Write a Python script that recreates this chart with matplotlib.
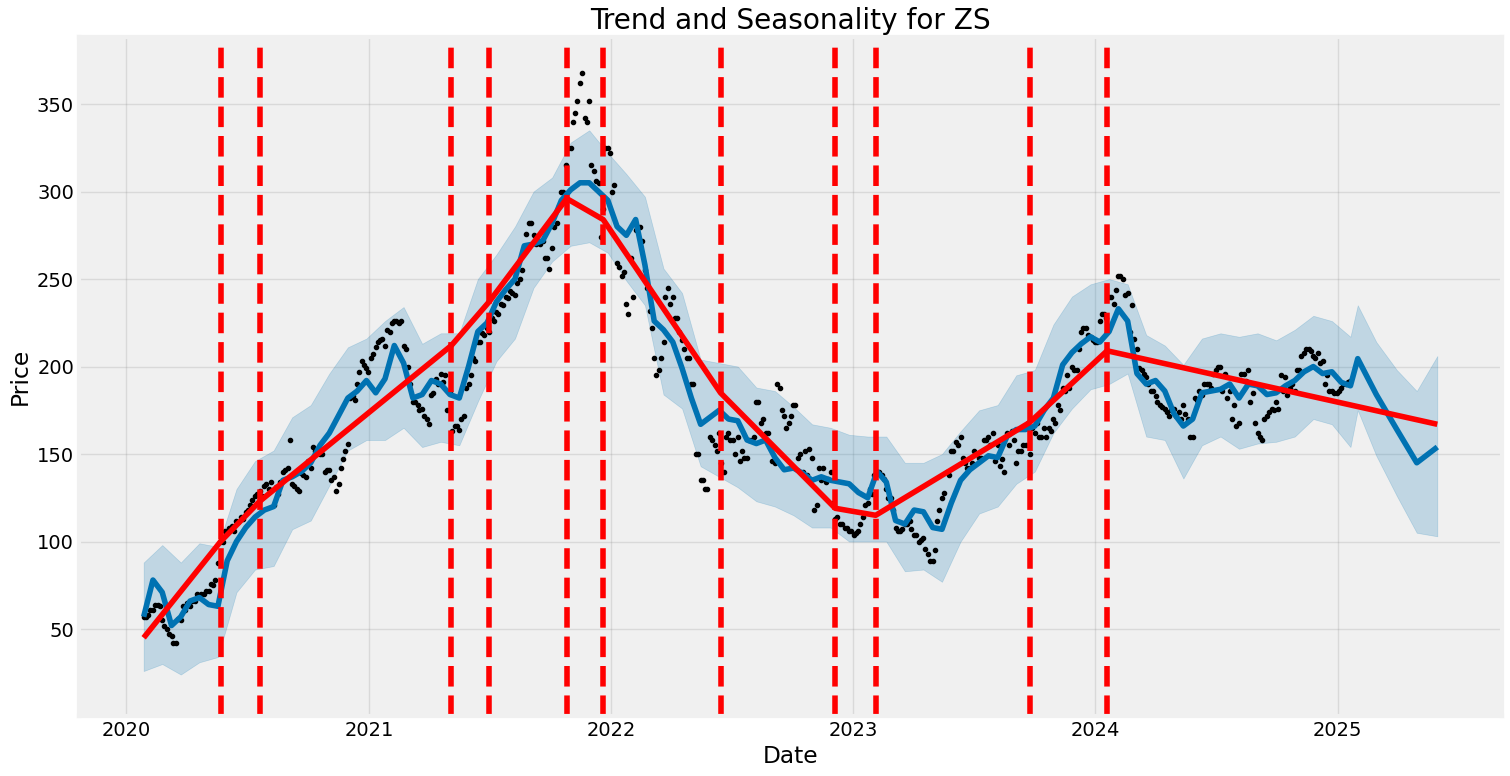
import pandas as pd
import matplotlib.pyplot as plt

mon_start = '2020-01-27'
mon_price = [
    57, 58, 61, 64, 55, 50, 46, 42, 55, 61,
    63, 66, 69, 70, 72, 75, 88, 100, 106, 109,
    112, 114, 117, 121, 126, 129, 132, 130, 121, 127,
    140, 142, 133, 130, 139, 137, 142, 152, 150, 140,
    141, 137, 133, 147, 156, 183, 190, 203, 199, 205,
    211, 215, 212, 220, 226, 225, 212, 200, 180, 178,
    176, 170, 184, 193, 196, 195, 186, 166, 164, 172,
    190, 205, 214, 219, 222, 228, 231, 236, 240, 243,
    241, 250, 265, 282, 275, 272, 272, 262, 268, 282,
    300, 315, 325, 345, 362, 342, 352, 312, 305, 290,
    325, 300, 259, 252, 236, 262, 278, 280, 255, 232,
    205, 198, 214, 245, 240, 228, 215, 205, 190, 150,
    135, 130, 160, 155, 162, 140, 162, 158, 160, 152,
    148, 158, 180, 168, 162, 155, 145, 188, 172, 168,
    178, 148, 140, 138, 148, 121, 135, 134, 140, 113,
    110, 108, 106, 104, 106, 114, 122, 127, 140, 138,
    130, 125, 108, 106, 110, 112, 104, 100, 102, 93,
    89, 112, 125, 140, 152, 157, 160, 145, 142, 152,
    148, 158, 160, 162, 155, 147, 162, 163, 145, 152,
    155, 150, 162, 160, 165, 165, 170, 178, 188, 195,
    200, 198, 220, 222, 217, 214, 226, 230, 240, 236,
    252, 250, 242, 235, 210, 198, 194, 186, 183, 178,
    176, 172, 176, 174, 178, 170, 160, 181, 184, 190,
    188, 198, 200, 196, 186, 178, 168, 196, 198, 185,
    162, 158, 172, 176, 180, 195, 194, 188, 186, 198,
    208, 210, 206, 208, 203, 195, 186, 185, 188, 190, 192,
]

# observed closing prices, weekly on Thursdays from 2020-01-30
thu_start = '2020-01-30'
thu_price = [
    57, 61, 64, 63, 52, 47, 42, 56, 63, 65,
    66, 70, 70, 72, 76, 78, 100, 106, 108, 106,
    111, 113, 118, 124, 127, 126, 133, 134, 131, 134,
    141, 158, 132, 129, 138, 146, 154, 152, 150, 141,
    135, 129, 142, 152, 182, 181, 197, 201, 197, 207,
    214, 216, 221, 225, 226, 226, 210, 190, 180, 175,
    172, 167, 185, 190, 191, 175, 163, 166, 170, 188,
    195, 203, 214, 218, 220, 226, 230, 235, 239, 242,
    248, 255, 276, 282, 270, 270, 262, 256, 280, 292,
    300, 325, 340, 352, 368, 340, 315, 306, 274, 325,
    322, 304, 257, 254, 230, 240, 280, 272, 245, 222,
    195, 205, 240, 236, 228, 220, 210, 205, 190, 150,
    135, 130, 158, 152, 145, 160, 158, 150, 146, 148,
    158, 160, 180, 170, 162, 146, 190, 175, 165, 172,
    178, 150, 152, 153, 118, 142, 142, 136, 122, 114,
    110, 108, 106, 105, 110, 121, 130, 138, 140, 136,
    125, 118, 106, 107, 110, 107, 104, 101, 96, 89,
    95, 118, 128, 138, 152, 155, 148, 142, 145, 150,
    148, 158, 155, 146, 143, 140, 155, 158, 152, 155,
    168, 165, 168, 160, 160, 163, 168, 175, 186, 188,
    198, 210, 222, 218, 215, 214, 230, 228, 240, 244,
    252, 241, 220, 216, 199, 196, 190, 186, 180, 177,
    174, 175, 172, 170, 173, 160, 182, 186, 190, 190,
    196, 200, 186, 182, 170, 166, 196, 192, 180, 168,
    160, 170, 174, 175, 176, 186, 184, 190, 198, 206,
    210, 209, 205, 202, 190, 186, 185, 186, 190, 191,
]

# model fit on history, every second Monday
yhat_hist = [
    57, 78, 71, 52, 57, 66, 68, 64, 63, 89, 100, 108, 114, 118, 120, 135, 137, 140, 145, 155,
    162, 172, 182, 186, 192, 185, 193, 212, 202, 182, 184, 192, 190, 184, 182, 200, 220, 225, 237, 244, 250, 269, 270, 272, 282, 295,
    301, 305, 305, 300, 295, 280, 275, 284, 258, 226, 221, 214, 199, 182, 167, 171, 175, 170, 169, 158, 156, 158, 148, 141, 142, 139,
    135, 137, 135, 134, 133, 128, 125, 140, 134, 112, 110, 118, 117, 108, 107, 122, 135, 141, 145, 149, 148, 160, 164, 164, 166, 175,
    182, 201, 208, 213, 217, 214, 220, 233, 226, 196, 190, 192, 186, 173, 166, 170, 185, 186, 187, 190, 182, 190, 189, 184, 185, 189,
    192, 197, 200, 196, 197, 191, 189,
]

# uncertainty interval on history, every fourth Monday
upper_hist = [
    88, 98, 88, 99, 97, 130, 146, 152, 171, 178,
    196, 211, 216, 226, 234, 213, 219, 219, 250, 264, 280, 300, 308,
    328, 335, 322, 310, 297, 256, 242, 204, 202, 200, 188, 186, 177,
    167, 165, 161, 160, 160, 145, 145, 150, 163, 175, 178, 195, 198,
    224, 240, 247, 250, 247, 218, 212, 201, 216, 219, 217, 219, 215,
    221, 229, 226, 217,
]
lower_hist = [
    26, 30, 24, 31, 34, 71, 84, 86, 107, 112,
    132, 152, 158, 158, 165, 154, 157, 155, 180, 203, 216, 245, 260,
    269, 271, 265, 249, 235, 184, 176, 143, 137, 131, 123, 120, 115,
    108, 108, 100, 100, 100, 83, 84, 77, 100, 116, 120, 133, 140,
    162, 176, 187, 190, 196, 160, 158, 136, 155, 160, 153, 156, 157,
    160, 170, 167, 154,
]

# monthly forecast
future_dates = ['2025-01-31', '2025-02-28', '2025-03-31', '2025-04-30', '2025-05-31']
yhat_future = [204.5, 184, 164, 145, 154]
upper_future = [235, 214, 198, 186, 206]
lower_future = [175, 149, 126, 105, 103]

# piecewise trend vertices and changepoints
trend_dates = ['2020-01-27', '2020-05-22', '2020-07-20', '2021-05-05', '2021-07-01',
               '2021-10-26', '2021-12-20', '2022-06-15', '2022-12-05', '2023-02-04',
               '2023-09-24', '2024-01-19', '2025-05-31']
trend_values = [45, 100, 123, 212, 237, 296, 284, 185, 119, 115, 168, 209, 167]
changepoints = trend_dates[1:-1]

mon_dates = pd.date_range(mon_start, periods=len(mon_price), freq='7D')
thu_dates = pd.date_range(thu_start, periods=len(thu_price), freq='7D')
obs = pd.Series(mon_price + thu_price, index=mon_dates.append(thu_dates)).sort_index()

fut = pd.to_datetime(future_dates)
yhat_dates = mon_dates[::2].append(fut)
band_dates = mon_dates[::4].append(fut)
yhat = yhat_hist + yhat_future
upper = upper_hist + upper_future
lower = lower_hist + lower_future

plt.style.use('fivethirtyeight')
fig = plt.figure(facecolor='w', figsize=(15.1, 7.76), dpi=100)
ax = fig.add_subplot(111)

ax.plot(obs.index, obs.values, 'k.')
ax.plot(yhat_dates, yhat, ls='-', c='#0072B2')
ax.fill_between(band_dates, lower, upper, color='#0072B2', alpha=0.2)
ax.grid(True, which='major', c='gray', ls='-', lw=1, alpha=0.2)

# trend and changepoints
ax.plot(pd.to_datetime(trend_dates), trend_values, c='r')
for cp in pd.to_datetime(changepoints):
    ax.axvline(x=cp, c='r', ls='--')

ax.set_ylim(0.3, 388.3)
ax.set_title('Trend and Seasonality for ZS')
ax.set_xlabel('Date')
ax.set_ylabel('Price')

fig.subplots_adjust(left=0.0523, right=0.9947, top=0.9523, bottom=0.0773)
plt.savefig('out.png', facecolor='w')
